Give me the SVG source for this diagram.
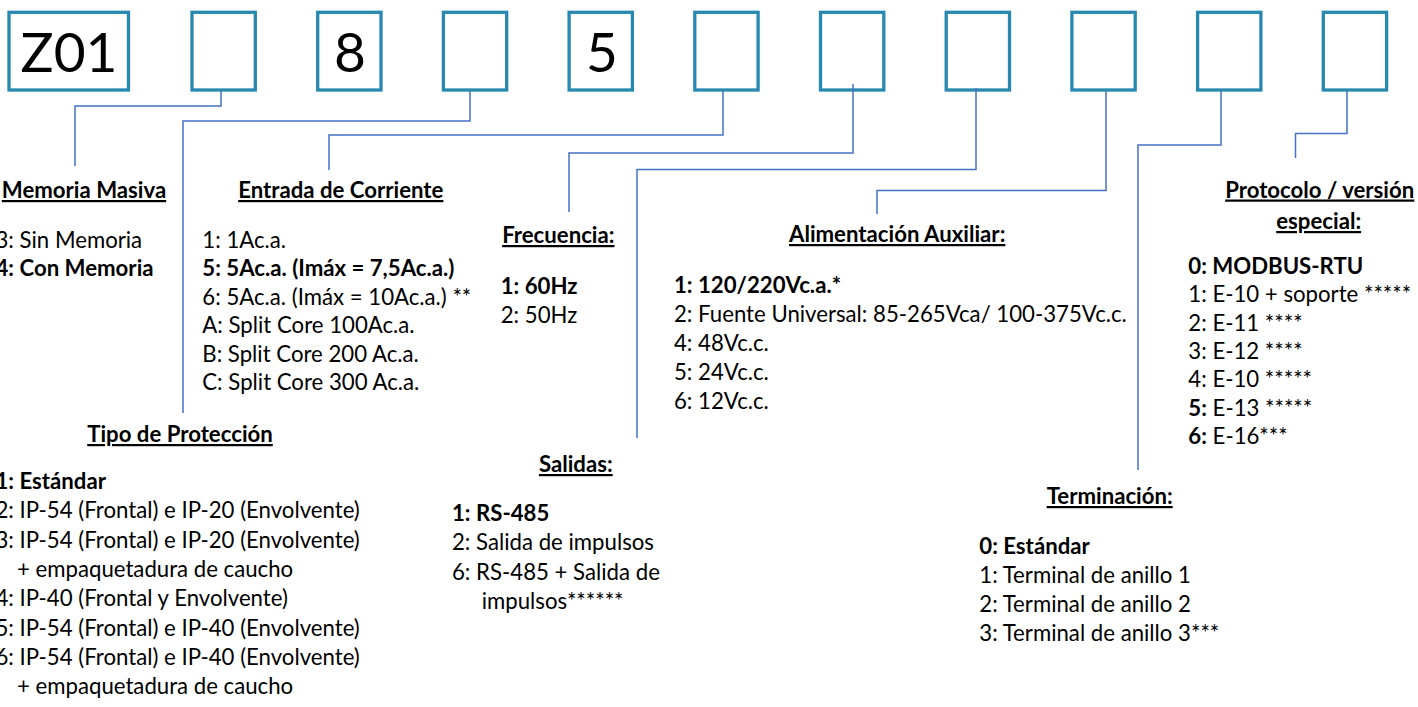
<svg xmlns="http://www.w3.org/2000/svg" width="1418" height="707" viewBox="0 0 1418 707">
<style>
  .box { fill: none; stroke: #2889b0; stroke-width: 3.3; }
  .conn { fill: none; stroke: #4472c4; stroke-width: 1.5; }
  text { font-family: Lato, "Liberation Sans", sans-serif; font-size: 22.2px; fill: #000; }
  .big { font-size: 55px; text-anchor: middle; }
  .title { font-weight: bold; text-decoration: underline; text-anchor: middle; }
  .b { font-weight: bold; }
</style>
<rect width="1418" height="707" fill="#fff"/>
<g id="code-boxes">
  <g id="box1"><rect class="box" x="9" y="12.3" width="119.5" height="77.7"/><text class="big" x="69" y="71.5">Z01</text></g>
  <g id="box2"><rect class="box" x="192" y="12.3" width="63.3" height="77.7"/></g>
  <g id="box3"><rect class="box" x="317.7" y="12.3" width="63.3" height="77.7"/><text class="big" x="350" y="71.5">8</text></g>
  <g id="box4"><rect class="box" x="443.4" y="12.3" width="63.3" height="77.7"/></g>
  <g id="box5"><rect class="box" x="569.1" y="12.3" width="63.3" height="77.7"/><text class="big" x="602" y="71.5">5</text></g>
  <g id="box6"><rect class="box" x="694.8" y="12.3" width="63.3" height="77.7"/></g>
  <g id="box7"><rect class="box" x="820.5" y="12.3" width="63.3" height="77.7"/></g>
  <g id="box8"><rect class="box" x="946.2" y="12.3" width="63.3" height="77.7"/></g>
  <g id="box9"><rect class="box" x="1071.9" y="12.3" width="63.3" height="77.7"/></g>
  <g id="box10"><rect class="box" x="1197.6" y="12.3" width="63.3" height="77.7"/></g>
  <g id="box11"><rect class="box" x="1323.3" y="12.3" width="63.3" height="77.7"/></g>
</g>
<g id="connectors">
  <polyline class="conn" points="221,91 221,106 75,106 75,166"/>
  <polyline class="conn" points="470,91 470,121 183,121 183,413"/>
  <polyline class="conn" points="723,91 723,135 329,135 329,170"/>
  <polyline class="conn" points="853,84 853,153 569,153 569,212"/>
  <polyline class="conn" points="976,88 976,169.5 637,169.5 637,438"/>
  <polyline class="conn" points="1106,91 1106,190.5 877,190.5 877,214"/>
  <polyline class="conn" points="1221,91 1221,145 1138,145 1138,470"/>
  <polyline class="conn" points="1347,91 1347,133.5 1295.5,133.5 1295.5,158"/>
</g>
<g id="memoria">
  <text class="title" x="84" y="198">Memoria Masiva</text>
  <text x="-4.5" y="247.5">3: Sin Memoria</text>
  <text class="b" x="-4.5" y="276">4: Con Memoria</text>
</g>
<g id="entrada">
  <text class="title" x="340.8" y="198">Entrada de Corriente</text>
  <text x="202.3" y="247.5">1: 1Ac.a.</text>
  <text class="b" x="202.3" y="276">5: 5Ac.a. (Imáx = 7,5Ac.a.)</text>
  <text x="202.3" y="304.5">6: 5Ac.a. (Imáx = 10Ac.a.) **</text>
  <text x="202.3" y="333">A: Split Core 100Ac.a.</text>
  <text x="202.3" y="361.5">B: Split Core 200 Ac.a.</text>
  <text x="202.3" y="390">C: Split Core 300 Ac.a.</text>
</g>
<g id="frecuencia">
  <text class="title" x="558.3" y="243">Frecuencia:</text>
  <text class="b" x="500.7" y="293.5">1: 60Hz</text>
  <text x="500.7" y="322.5">2: 50Hz</text>
</g>
<g id="alimentacion">
  <text class="title" x="897.2" y="242">Alimentación Auxiliar:</text>
  <text class="b" x="674" y="292.5">1: 120/220Vc.a.*</text>
  <text x="674" y="321.5">2: Fuente Universal: 85-265Vca/ 100-375Vc.c.</text>
  <text x="674" y="350.5">4: 48Vc.c.</text>
  <text x="674" y="379.5">5: 24Vc.c.</text>
  <text x="674" y="408.5">6: 12Vc.c.</text>
</g>
<g id="protocolo">
  <text class="title" x="1319.7" y="197.5">Protocolo / versión</text>
  <text class="title" x="1318.7" y="229">especial:</text>
  <text class="b" x="1188.3" y="274">0: MODBUS-RTU</text>
  <text x="1188.3" y="302.3">1: E-10 + soporte *****</text>
  <text x="1188.3" y="330.6">2: E-11 ****</text>
  <text x="1188.3" y="358.9">3: E-12 ****</text>
  <text x="1188.3" y="387.2">4: E-10 *****</text>
  <text x="1188.3" y="415.5"><tspan class="b">5:</tspan> E-13 *****</text>
  <text x="1188.3" y="443.8"><tspan class="b">6:</tspan> E-16***</text>
</g>
<g id="tipo">
  <text class="title" x="180" y="442">Tipo de Protección</text>
  <text class="b" x="-4.5" y="489">1: Estándar</text>
  <text x="-4.5" y="518.3">2: IP-54 (Frontal) e IP-20 (Envolvente)</text>
  <text x="-4.5" y="547.6">3: IP-54 (Frontal) e IP-20 (Envolvente)</text>
  <text x="17" y="576.9">+ empaquetadura de caucho</text>
  <text x="-4.5" y="606.2">4: IP-40 (Frontal y Envolvente)</text>
  <text x="-4.5" y="635.5">5: IP-54 (Frontal) e IP-40 (Envolvente)</text>
  <text x="-4.5" y="664.8">6: IP-54 (Frontal) e IP-40 (Envolvente)</text>
  <text x="17" y="694.1">+ empaquetadura de caucho</text>
</g>
<g id="salidas">
  <text class="title" x="575.8" y="472">Salidas:</text>
  <text class="b" x="452" y="521">1: RS-485</text>
  <text x="452" y="550.3">2: Salida de impulsos</text>
  <text x="452" y="579.6">6: RS-485 + Salida de</text>
  <text x="481.7" y="608.9">impulsos******</text>
</g>
<g id="terminacion">
  <text class="title" x="1109.7" y="504">Terminación:</text>
  <text class="b" x="979.3" y="553.5">0: Estándar</text>
  <text x="979.3" y="582.5">1: Terminal de anillo 1</text>
  <text x="979.3" y="611.8">2: Terminal de anillo 2</text>
  <text x="979.3" y="641">3: Terminal de anillo 3***</text>
</g>
</svg>
